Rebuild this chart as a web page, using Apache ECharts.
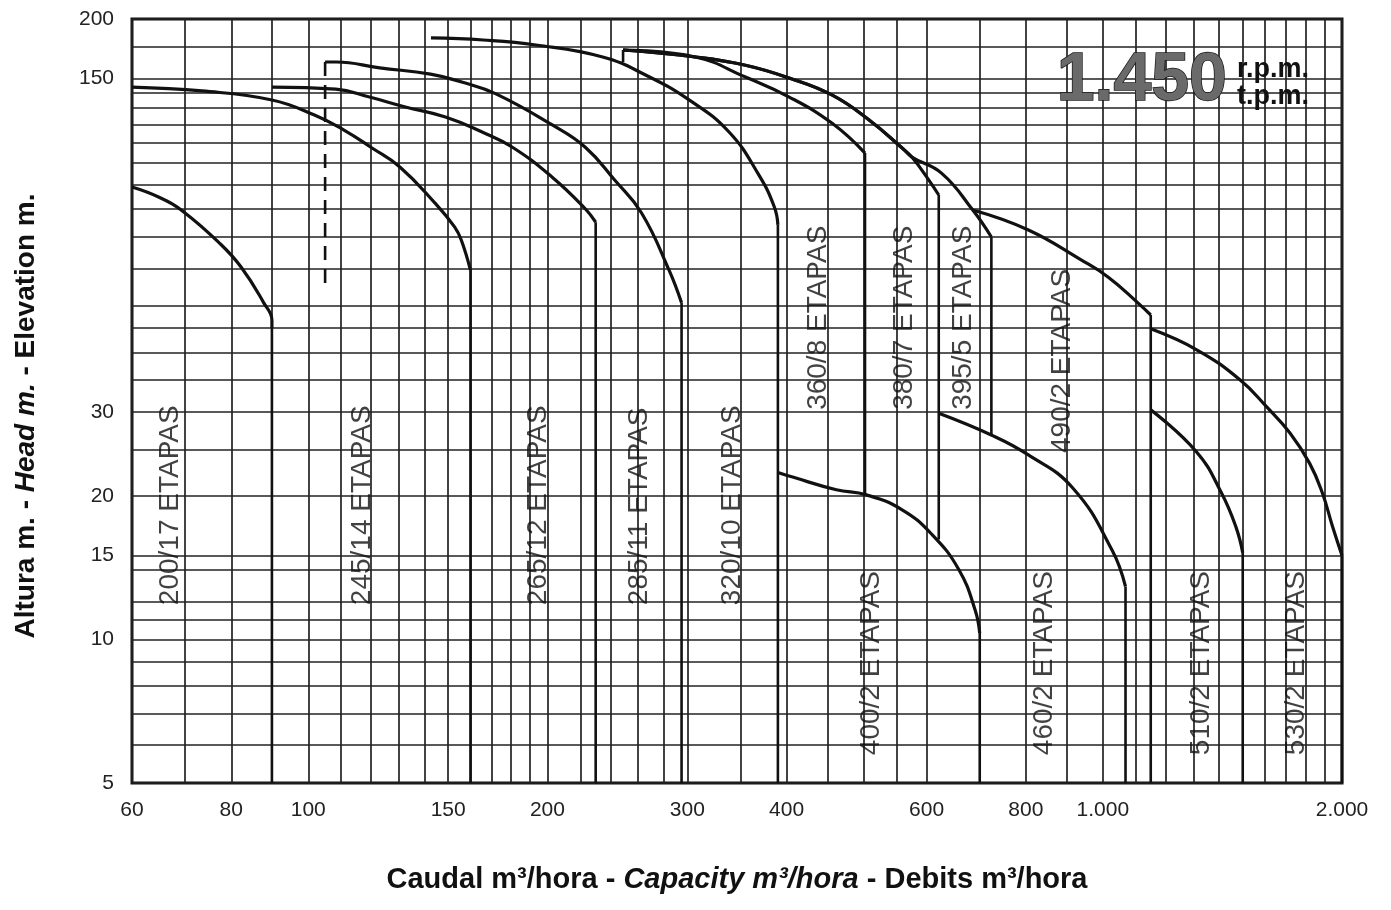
<!DOCTYPE html>
<html><head><meta charset="utf-8">
<script src="https://cdn.jsdelivr.net/npm/echarts@6/dist/echarts.min.js"></script>
<style>html,body{margin:0;padding:0;background:#fff}#c{width:1391px;height:910px}</style>
</head><body><div id="c"></div>
<script>
// ---- grid / tick values ----
const xGridValues = [60,70,80,90,100,110,120,130,140,150,160,170,180,190,200,220,240,260,280,300,350,400,450,500,550,600,700,800,900,1000,1100,1200,1300,1400,1500,1600,1700,1800,1900,2000];
const yGridValues = [5,6,7,8,9,10,11,12,14,15,20,25,30,35,40,45,50,60,70,80,90,100,110,120,130,140,150,175,200];
const xLabelValues = [60,80,100,150,200,300,400,600,800,1000,2000];
const yLabelValues = [5,10,15,20,30,150,200];

// ---- pump curves [Q m3/h, H m] ----
const pumpNames = ['200/17','245/14','265/12','285/11','320/10','360/8','380/7','395/5','490/2','400/2','460/2','510/2','530/2'];
const c200_17 = [[60,88.9],[65,84.5],[69.7,78.8],[77.3,67.8],[82.3,60.4],[87.9,50.8],[90,46.7],[90,45]];
const c245_14 = [[60,144],[73.5,141.3],[90,135.3],[101.8,125.8],[110.9,117],[120.3,107.3],[130.4,97.9],[144.3,82.3],[152.8,73.3],[155.8,68.8],[160,59.5]];
const c265_12 = [[90,144],[108.3,142.6],[119.4,137.2],[132.5,130.8],[148.8,124.6],[165.5,115.9],[180.5,107.8],[202.6,93.3],[222.7,80.3],[230,75]];
const c285_11 = [[105,162.5],[108.5,162.5],[123,157.9],[142.5,153.3],[156,147.5],[172,139.5],[202.8,119.9],[223,107.8],[243,91.9],[262.7,78.4],[284.5,59.5],[295,50.8]];
const c320_10 = [[142.7,182.5],[166,180.7],[193.4,176.4],[234.7,166.5],[265.8,152.6],[301.5,135.3],[338.5,115.9],[369,94.2],[386,80.7],[390,74]];
const c360_8 = [[249,172.2],[307,166.5],[355,151.1],[403,137.2],[456,121],[502,104.7]];
const c380_7 = [[249,172.2],[307,166.5],[355,160],[403,150.4],[456,138.6],[508,122.8],[559,107.3],[575,102.7],[604,91.9],[621.6,85.5]];
const c395_5 = [[249,172.2],[307,166.5],[355,160],[403,150.4],[456,138.6],[508,122.8],[559,107.3],[575,102.7],[627,94.9],[686,79.5],[724,69.8]];
const c490_2 = [[686,79.5],[806,72.2],[939,62.5],[1016,57.5],[1107,50.8],[1149,47.9]];
const c400_2 = [[390,22.4],[407,21.9],[462,20.6],[504,20.1],[559,18.7],[609.5,16.6],[659,14],[691,11.5],[700,10.3]];
const c460_2 = [[621.6,29.8],[725,26.8],[805,24.4],[916,20.8],[1027,15.4],[1068,12.9]];
const c510_2 = [[1149,30.3],[1313,24.7],[1410,20.3],[1471,17.2],[1500,15.2]];
const c530_2 = [[1149,44.8],[1316,40.4],[1489,35],[1609,30.7],[1720,27.1],[1821,23.4],[1889,20.3],[1945,17.3],[2000,15.0]];

// vertical end-of-curve lines: flow, top head, bottom head
const dropQ       = [90, 160, 230, 295, 390, 502, 621.6, 724, 1149, 700, 1068, 1500, 2000];
const dropTopH    = [45, 59.5, 75, 50.8, 74, 104.7, 85.5, 69.8, 47.9, 10.3, 12.9, 15.2, 15.0];
const dropBottomH = [5, 5, 5, 5, 5, 20.1, 16.2, 26.8, 5, 5, 5, 5, 5];
// short start tick (360/8 family) and dashed minimum-flow line (285/11)
const startTick = [[249,162.5],[249,172.2]];
const dashedLine = [[105,162.5],[105,55.4]];

// label anchors (start of the rotated "xxx ETAPAS" text)
const labelQ = [67,117,195,261,342,439,562,667,889,511,843,1329,1751];
const labelH = [11.8,11.8,11.8,11.8,11.8,30.3,30.3,30.3,24.6,5.72,5.72,5.72,5.72];

const FONT = '"Liberation Sans", Arial, Helvetica, sans-serif';
const curves = [c200_17,c245_14,c265_12,c285_11,c320_10,c360_8,c380_7,c395_5,c490_2,c400_2,c460_2,c510_2,c530_2];

const series = [];
curves.forEach((d, i) => {
  series.push({type:'line', name:pumpNames[i], data:d, smooth:0.45, symbol:'none', silent:true,
    lineStyle:{color:'#111', width:3.2}, z:5});
});
dropQ.forEach((q, i) => {
  series.push({type:'line', data:[[q, dropTopH[i]], [q, dropBottomH[i]]], symbol:'none', silent:true,
    lineStyle:{color:'#111', width:2.6}, z:4});
});
series.push({type:'line', data:startTick, symbol:'none', silent:true, lineStyle:{color:'#111', width:2.6}, z:4});
series.push({type:'line', data:dashedLine, symbol:'none', silent:true, lineStyle:{color:'#111', width:2.6, type:[14,9]}, z:4});
series.push({type:'scatter', silent:true, symbolSize:1, itemStyle:{color:'rgba(0,0,0,0)'}, z:6,
  data: pumpNames.map((n, i) => [labelQ[i], labelH[i], n]),
  label:{show:true, position:'inside', rotate:90, align:'left', verticalAlign:'middle',
    formatter: p => p.value[2] + ' ETAPAS', fontSize:28, color:'#111', fontFamily:FONT}});

const richName = (size) => ({
  b:{fontWeight:'bold', fontSize:size, fontFamily:FONT, color:'#111'},
  i:{fontWeight:'bold', fontStyle:'italic', fontSize:size, fontFamily:FONT, color:'#111'}
});

const chart = echarts.init(document.getElementById('c'), null, {renderer:'canvas'});
chart.setOption({
  animation:false,
  backgroundColor:'#fff',
  grid:{left:132, right:49, top:19, bottom:127, show:true, borderColor:'#111', borderWidth:3, containLabel:false, outerBoundsMode:'none'},
  xAxis:{type:'log', logBase:10, min:60, max:2000,
    name:'{b|Caudal m³/hora - }{i|Capacity m³/hora}{b| - Debits m³/hora}',
    nameLocation:'middle', nameGap:82,
    nameTextStyle:{rich:richName(29), padding:[0,0,0,0]},
    axisLine:{show:false}, axisTick:{show:false, customValues:xGridValues},
    axisLabel:{customValues:xLabelValues, fontSize:21, color:'#222', fontFamily:FONT, margin:17,
      formatter: v => v >= 1000 ? (v/1000) + '.000' : String(v)},
    splitLine:{show:true, lineStyle:{color:'#222', width:1.7}}, minorSplitLine:{show:false}},
  yAxis:{type:'log', logBase:10, min:5, max:200,
    name:'{b|Altura m. - }{i|Head m.}{b| - Elevation m.}',
    nameLocation:'middle', nameGap:92,
    nameTextStyle:{rich:richName(28), padding:[0,30,0,0]},
    axisLine:{show:false}, axisTick:{show:false, customValues:yGridValues},
    axisLabel:{customValues:yLabelValues, fontSize:21, color:'#222', fontFamily:FONT, margin:18},
    splitLine:{show:true, lineStyle:{color:'#222', width:1.7}}, minorSplitLine:{show:false}},
  graphic:[
    {type:'text', left:1056, top:46, z:10, style:{text:'1.450', font:'bold 68px ' + FONT, fill:'#6a6a6a', stroke:'#1a1a1a', lineWidth:1.5}},
    {type:'text', left:1237, top:56, z:10, style:{text:'r.p.m.', font:'bold 27px ' + FONT, fill:'#111'}},
    {type:'text', left:1237, top:83, z:10, style:{text:'t.p.m.', font:'bold 27px ' + FONT, fill:'#111'}}
  ],
  series: series
});
</script></body></html>
